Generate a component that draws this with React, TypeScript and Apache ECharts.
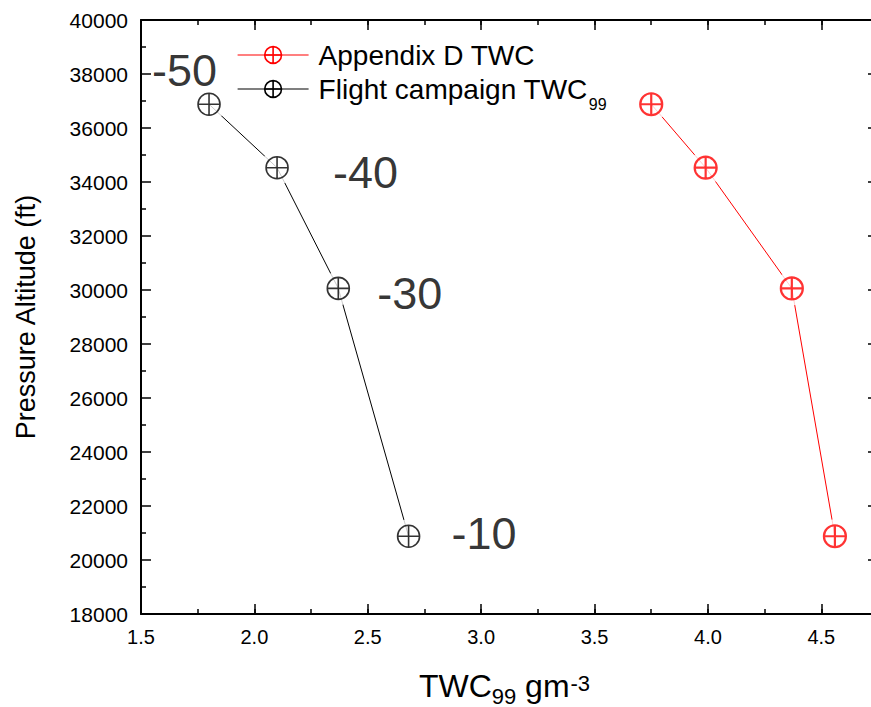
import React, { useEffect, useRef } from 'react';
import * as echarts from 'echarts';

// Pressure altitude (ft) of each temperature level
const altitudes = [36880, 34530, 30060, 20880];
// Appendix D total water content (g m^-3)
const appendixTwc = [3.75, 3.99, 4.37, 4.56];
// Flight campaign 99th percentile total water content (g m^-3)
const flightTwc = [1.8, 2.1, 2.37, 2.68];
// Temperature (°C) annotated next to each flight campaign point
const temperatures = ['-50', '-40', '-30', '-10'];

const FONT = '"Liberation Sans", Arial, Helvetica, sans-serif';
const CROSS_CIRCLE = 'path://M1,11A10,10,0,1,1,21,11A10,10,0,1,1,1,11ZM1,11L21,11M11,1L11,21';
const RED = '#ff0000';
const BLACK = '#000000';

// Where each temperature label sits relative to its point (left edge, vertical centre)
const tempLabelOffsets = [
  [-57, -34],
  [56, 5],
  [39, 5],
  [43, -3],
];

const APPENDIX = 'Appendix D TWC';
const FLIGHT = 'Flight campaign TWC99';

function pairs(xs: number[]) {
  return xs.map((x, i) => [x, altitudes[i]]);
}

export default function App() {
  const ref = useRef<HTMLDivElement>(null);

  useEffect(() => {
    if (!ref.current) return;
    const chart = echarts.init(ref.current, undefined, { renderer: 'svg' });

    const xMin = 1.5;
    const xMax = 4.75;
    const axisLine = { show: true, onZero: false, lineStyle: { color: BLACK, width: 2 } };
    const majorTick = { show: true, inside: true, length: 10, lineStyle: { color: BLACK, width: 1.5 } };
    const minorTickAxis = { show: true, inside: true, length: 5, lineStyle: { color: BLACK, width: 1.5 } };

    const xMajor = (position: 'bottom' | 'top', labels: boolean) => ({
      type: 'value',
      position,
      min: xMin,
      max: xMax,
      interval: 0.5,
      axisLine,
      axisTick: majorTick,
      axisLabel: labels
        ? {
            show: true,
            fontSize: 20,
            fontFamily: FONT,
            color: BLACK,
            margin: 13,
            showMaxLabel: false,
            formatter: (v: number) => v.toFixed(1),
          }
        : { show: false },
      splitLine: { show: false },
    });
    // Shorter ticks every 0.25 between the labelled ones
    const xMinor = (position: 'bottom' | 'top') => ({
      type: 'value',
      position,
      min: xMin,
      max: xMax,
      interval: 0.25,
      axisLine: { show: false },
      axisTick: minorTickAxis,
      axisLabel: { show: false },
      splitLine: { show: false },
    });

    const yAxisBase = (position: 'left' | 'right', labels: boolean) => ({
      type: 'value',
      position,
      min: 18000,
      max: 40000,
      interval: 2000,
      axisLine,
      axisTick: majorTick,
      minorTick: { show: true, splitNumber: 2, length: 5, lineStyle: { color: BLACK, width: 1.5 } },
      axisLabel: labels
        ? {
            show: true,
            fontSize: 21,
            fontFamily: FONT,
            color: BLACK,
            margin: 13,
            formatter: (v: number) => String(v),
          }
        : { show: false },
      splitLine: { show: false },
      minorSplitLine: { show: false },
    });

    const bottomAxis: any = xMajor('bottom', true);
    bottomAxis.name = '{a|TWC}{s|99}{a| gm}{p|-3}';
    bottomAxis.nameLocation = 'middle';
    bottomAxis.nameGap = 50;
    bottomAxis.nameTextStyle = {
      color: BLACK,
      fontFamily: FONT,
      padding: [0, 10, 0, 0],
      rich: {
        a: { fontSize: 32, fontFamily: FONT, color: BLACK, lineHeight: 43, verticalAlign: 'middle' },
        s: { fontSize: 22, fontFamily: FONT, color: BLACK, lineHeight: 22, verticalAlign: 'bottom' },
        p: { fontSize: 22, fontFamily: FONT, color: BLACK, lineHeight: 22, verticalAlign: 'top', padding: [8, 0, 0, 1] },
      },
    };

    const leftAxis: any = yAxisBase('left', true);
    leftAxis.name = 'Pressure Altitude (ft)';
    leftAxis.nameLocation = 'middle';
    leftAxis.nameGap = 102;
    leftAxis.nameTextStyle = { fontSize: 27, fontFamily: FONT, color: BLACK };

    const lineSeries = (name: string, xs: number[], color: string, border: number) => ({
      name,
      type: 'line',
      xAxisIndex: 1,
      yAxisIndex: 0,
      data: pairs(xs),
      symbol: CROSS_CIRCLE,
      symbolSize: 22,
      showSymbol: false,
      lineStyle: { color, width: 1 },
      itemStyle: { color: 'rgba(0,0,0,0)', borderColor: color, borderWidth: border },
      z: 2,
    });

    // White discs that open a small gap in the line around each marker
    const haloSeries = (name: string, xs: number[]) => ({
      name,
      type: 'scatter',
      xAxisIndex: 1,
      yAxisIndex: 0,
      data: pairs(xs),
      symbol: 'circle',
      symbolSize: 34,
      itemStyle: { color: '#ffffff' },
      silent: true,
      z: 3,
    });

    const markerSeries = (name: string, xs: number[], color: string, border: number, withTemps: boolean) => ({
      name,
      type: 'scatter',
      xAxisIndex: 1,
      yAxisIndex: 0,
      data: pairs(xs).map((p, i) =>
        withTemps ? { value: p, label: { offset: tempLabelOffsets[i] } } : { value: p }
      ),
      symbol: CROSS_CIRCLE,
      symbolSize: 22,
      itemStyle: { color: 'rgba(0,0,0,0)', borderColor: color, borderWidth: border },
      label: withTemps
        ? {
            show: true,
            position: 'inside',
            align: 'left',
            verticalAlign: 'middle',
            fontSize: 45,
            fontFamily: FONT,
            color: BLACK,
            formatter: (p: any) => temperatures[p.dataIndex],
          }
        : { show: false },
      z: 4,
    });

    chart.setOption({
      animation: false,
      backgroundColor: '#ffffff',
      grid: { left: 141, right: 2, top: 20, bottom: 93, containLabel: false, outerBoundsMode: 'none' },
      xAxis: [xMinor('bottom'), bottomAxis, xMajor('top', false), xMinor('top')],
      yAxis: [leftAxis, yAxisBase('right', false)],
      legend: {
        orient: 'vertical',
        left: 237,
        top: 41,
        padding: 0,
        itemWidth: 71,
        itemHeight: 21,
        itemGap: 6,
        selectedMode: false,
        data: [APPENDIX, FLIGHT],
        formatter: (name: string) =>
          name === APPENDIX ? '{a|Appendix D TWC}' : '{b|Flight campaign TWC}{s|99}',
        lineStyle: { width: 1.2 },
        itemStyle: { borderWidth: 1.6 },
        textStyle: {
          fontFamily: FONT,
          color: BLACK,
          rich: {
            a: { fontSize: 28, fontFamily: FONT, color: BLACK, lineHeight: 28, padding: [0, 0, 0, 5] },
            b: { fontSize: 28, fontFamily: FONT, color: BLACK, lineHeight: 46, verticalAlign: 'middle', padding: [0, 0, 0, 5] },
            s: { fontSize: 16, fontFamily: FONT, color: BLACK, lineHeight: 16, verticalAlign: 'bottom', padding: [0, 0, 0, 1] },
          },
        },
      },
      series: [
        lineSeries(APPENDIX, appendixTwc, RED, 2.2),
        lineSeries(FLIGHT, flightTwc, BLACK, 1.6),
        haloSeries('appendix-halo', appendixTwc),
        haloSeries('flight-halo', flightTwc),
        markerSeries('appendix-points', appendixTwc, RED, 2.2, false),
        markerSeries('flight-points', flightTwc, BLACK, 1.6, true),
      ],
    });

    return () => chart.dispose();
  }, []);

  return (
    <div
      style={{
        position: 'absolute',
        left: 0,
        top: 0,
        width: 871,
        height: 707,
        overflow: 'hidden',
        background: '#fff',
      }}
    >
      <div ref={ref} style={{ width: 880, height: 707 }} />
    </div>
  );
}
